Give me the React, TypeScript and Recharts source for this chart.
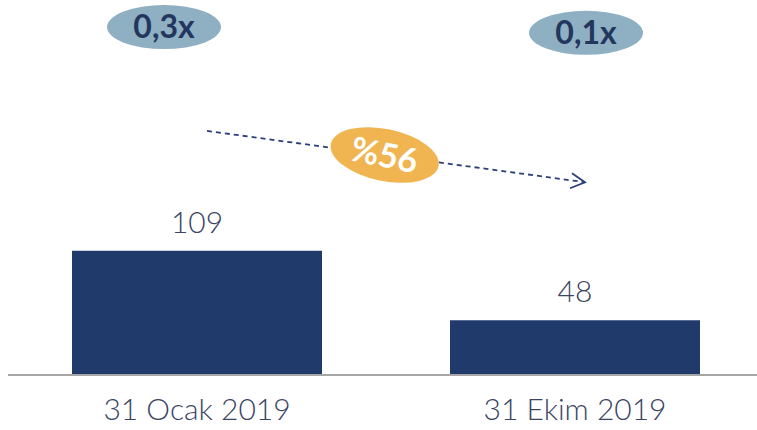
import React from 'react'
import {
  BarChart,
  Bar,
  XAxis,
  YAxis,
  LabelList,
  ReferenceDot,
  ReferenceLine,
} from 'recharts'

const categories = ['31 Ocak 2019', '31 Ekim 2019']
const values = [109, 48]
const ratios = ['0,3x', '0,1x']
const changeLabel = '%56'

const data = categories.map((name, i) => ({ name, value: values[i] }))

const NAVY = '#203A6B'
const TEXT = '#3A4463'

const RatioBadge = ({ cx, cy, text, dx }: any) => (
  <g>
    <ellipse cx={cx + dx} cy={cy} rx={57} ry={22} fill="#8FAFC3" />
    <text
      x={cx + dx}
      y={cy + 11}
      textAnchor="middle"
      fontFamily="Lato, sans-serif"
      fontWeight={700}
      fontSize={32}
      fill="#23365E"
    >
      {text}
    </text>
  </g>
)

const TrendArrow = ({ x1, y1, x2, y2 }: any) => {
  const sx = x1 + 10
  const ex = x2 + 10
  const t = 0.47
  const mx = sx + (ex - sx) * t
  const my = y1 + (y2 - y1) * t
  const ang = (Math.atan2(y2 - y1, ex - sx) * 180) / Math.PI
  return (
    <g>
      <line x1={sx} y1={y1} x2={ex} y2={y2} stroke="#2B3F7A" strokeWidth={1.8} strokeDasharray="5 4" />
      <path
        d={`M ${ex - 13} ${y2 - 9} L ${ex} ${y2} L ${ex - 15} ${y2 + 6}`}
        fill="none"
        stroke="#2B3F7A"
        strokeWidth={1.8}
      />
      <g transform={`rotate(${ang + 4} ${mx} ${my})`}>
        <ellipse cx={mx} cy={my} rx={55} ry={26} fill="#F0B550" />
        <text
          x={mx}
          y={my + 12}
          textAnchor="middle"
          fontFamily="Lato, sans-serif"
          fontWeight={700}
          fontSize={34}
          fill="#ffffff"
        >
          {changeLabel}
        </text>
      </g>
    </g>
  )
}

export default function App() {
  return (
    <div style={{ position: 'absolute', left: 0, top: 0, width: 757, height: 430, overflow: 'hidden', background: '#fff' }}>
      <BarChart
        width={764}
        height={430}
        data={data}
        margin={{ top: 10, right: 0, bottom: 0, left: 8 }}
      >
        <XAxis
          dataKey="name"
          height={55}
          tickLine={false}
          axisLine={{ stroke: '#A6A6A6', strokeWidth: 2 }}
          tick={{ fill: TEXT, fontSize: 30, fontWeight: 300, fontFamily: 'Lato, sans-serif' }}
          tickMargin={18}
        />
        <YAxis hide domain={[0, 320]} />
        <Bar dataKey="value" fill={NAVY} barSize={250} isAnimationActive={false}>
          <LabelList
            dataKey="value"
            position="top"
            offset={18}
            fill={TEXT}
            fontSize={30}
            fontWeight={300}
            fontFamily="Lato, sans-serif"
          />
        </Bar>
        <ReferenceDot
          x={categories[0]}
          y={305}
          r={0}
          shape={(p: any) => <RatioBadge {...p} text={ratios[0]} dx={-33} />}
        />
        <ReferenceDot
          x={categories[1]}
          y={300}
          r={0}
          shape={(p: any) => <RatioBadge {...p} text={ratios[1]} dx={11} />}
        />
        <ReferenceLine
          segment={[
            { x: categories[0], y: 214 },
            { x: categories[1], y: 169 },
          ]}
          shape={(p: any) => <TrendArrow {...p} />}
        />
      </BarChart>
    </div>
  )
}
